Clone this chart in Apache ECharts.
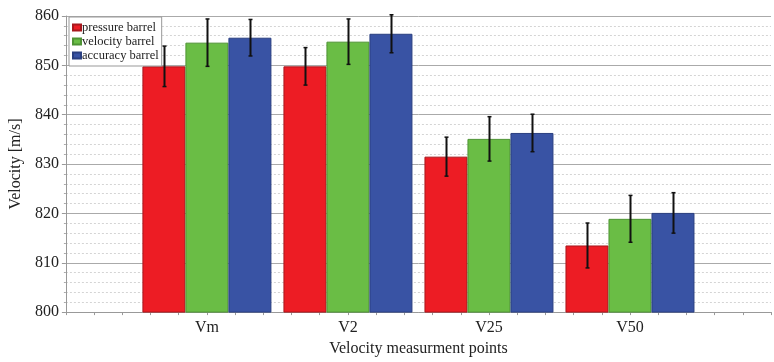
<!DOCTYPE html>
<html><head><meta charset="utf-8">
<script src="https://cdn.jsdelivr.net/npm/echarts@6/dist/echarts.min.js"></script>
<style>html,body{margin:0;padding:0;background:#fff;overflow:hidden}#c{width:774px;height:362px}</style>
</head><body><div id="c"></div>
<script>
const categories = ['Vm', 'V2', 'V25', 'V50'];
const seriesNames = ['pressure barrel', 'velocity barrel', 'accuracy barrel'];
const pressureMean = [849.8, 849.8, 831.5, 813.5];
const pressureErr = [4.1, 3.8, 3.95, 4.55];
const velocityMean = [854.6, 854.8, 835.1, 818.9];
const velocityErr = [4.8, 4.6, 4.5, 4.75];
const accuracyMean = [855.6, 856.4, 836.3, 820.1];
const accuracyErr = [3.7, 3.85, 3.8, 4.1];
const yTicks = [800, 810, 820, 830, 840, 850, 860];

const colors = ['#ED1C24', '#6ABD45', '#3953A4'];
const borders = ['#a8181d', '#4e9334', '#2a3f80'];
const means = [pressureMean, velocityMean, accuracyMean];
const errs = [pressureErr, velocityErr, accuracyErr];
const FONT = 'Liberation Serif';
const BW = 43;

const series = [];
means.forEach((m, si) => {
  series.push({
    name: seriesNames[si], type: 'bar', barWidth: BW, barGap: '0%',
    itemStyle: { color: colors[si], borderColor: borders[si], borderWidth: 1 },
    data: m.map((v, i) => [i + 1, v]), z: 2
  });
});
means.forEach((m, si) => {
  series.push({
    type: 'custom', silent: true, z: 5,
    data: m.map((v, i) => [i + 1, v - errs[si][i], v + errs[si][i]]),
    renderItem: function (params, api) {
      const off = (si - 1) * BW;
      const lo = api.coord([api.value(0), api.value(1)]);
      const hi = api.coord([api.value(0), api.value(2)]);
      const x = Math.round(lo[0] + off) + 0.5;
      return { type: 'group', children: [
        { type: 'line', shape: { x1: x, y1: lo[1], x2: x, y2: hi[1] }, style: { stroke: '#111', lineWidth: 2 } },
        { type: 'line', shape: { x1: x - 2, y1: lo[1], x2: x + 2, y2: lo[1] }, style: { stroke: '#111', lineWidth: 1.5 } },
        { type: 'line', shape: { x1: x - 2, y1: hi[1], x2: x + 2, y2: hi[1] }, style: { stroke: '#111', lineWidth: 1.5 } }
      ]};
    }
  });
});

const chart = echarts.init(document.getElementById('c'), null, { renderer: 'canvas', width: 774, height: 362 });
chart.setOption({
  animation: false,
  backgroundColor: '#fff',
  textStyle: { fontFamily: FONT },
  grid: { left: 64, right: -7, top: 16, bottom: 43, containLabel: false },
  legend: {
    data: seriesNames, orient: 'vertical', left: 69, top: 17, z: 10,
    icon: 'rect',
    backgroundColor: '#fff', borderColor: '#999', borderWidth: 1, padding: [4, 3, 4, 3],
    itemWidth: 8, itemHeight: 6, itemGap: 1,
    textStyle: { fontFamily: FONT, fontSize: 12.5, color: '#222', padding: [0, 0, 0, -4] }
  },
  xAxis: {
    type: 'value', min: 0, max: 5, interval: 0.2,
    name: 'Velocity measurment points', nameLocation: 'middle', nameGap: 25,
    nameTextStyle: { fontFamily: FONT, fontSize: 16, color: '#222' },
    axisLine: { show: true, lineStyle: { color: '#999' } },
    axisTick: { show: true, length: 3, lineStyle: { color: '#999' } },
    axisLabel: {
      fontFamily: FONT, fontSize: 16, color: '#222', margin: 8,
      formatter: v => {
        const r = Math.round(v);
        return (Math.abs(v - r) < 1e-6 && r >= 1 && r <= categories.length) ? categories[r - 1] : '';
      }
    },
    splitLine: { show: false }
  },
  yAxis: {
    type: 'value', min: yTicks[0], max: yTicks[yTicks.length - 1], interval: 10,
    name: 'Velocity [m/s]', nameLocation: 'middle', nameGap: 41,
    nameTextStyle: { fontFamily: FONT, fontSize: 16, color: '#222' },
    axisLine: { show: true, lineStyle: { color: '#999' } },
    axisTick: { show: true, length: 4, lineStyle: { color: '#999' } },
    minorTick: { show: true, splitNumber: 5, length: 2, lineStyle: { color: '#aaa' } },
    axisLabel: { fontFamily: FONT, fontSize: 16, color: '#222', margin: 7 },
    splitLine: { show: true, lineStyle: { color: '#aaa', width: 1 } },
    minorSplitLine: { show: true, lineStyle: { color: '#d4d4d4', type: [2, 2], width: 1 } }
  },
  series: series
});
</script></body></html>
